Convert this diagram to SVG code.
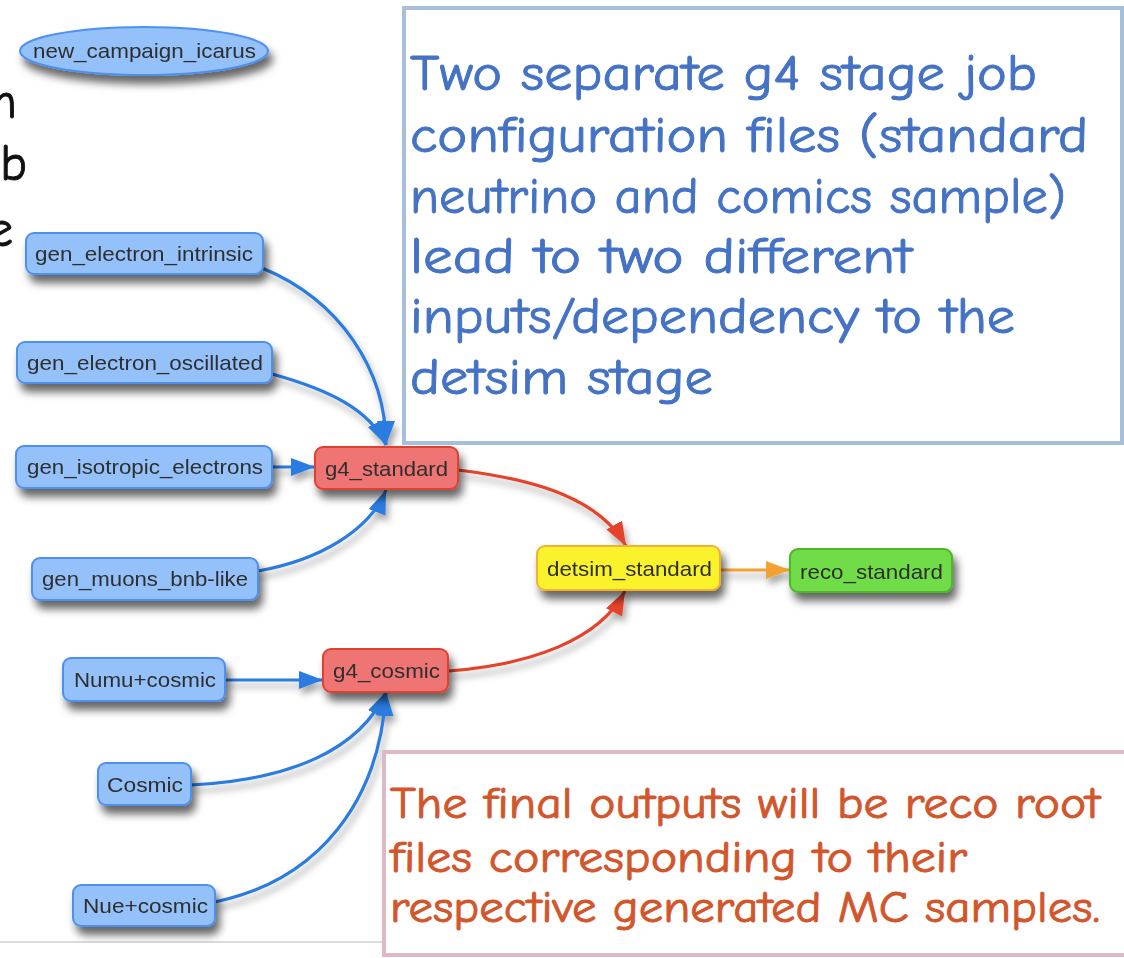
<svg xmlns="http://www.w3.org/2000/svg" width="1124" height="958" viewBox="0 0 1124 958">
  <defs>
    <filter id="shadow" x="-20%" y="-40%" width="150%" height="230%">
      <feDropShadow dx="4" dy="8" stdDeviation="4.5" flood-color="#000" flood-opacity="0.6"/>
    </filter>
    <filter id="edgeShadow" x="-20%" y="-20%" width="150%" height="150%">
      <feDropShadow dx="3" dy="6" stdDeviation="3.5" flood-color="#000" flood-opacity="0.35"/>
    </filter>
    <marker id="arrowBlue" markerUnits="userSpaceOnUse" markerWidth="26" markerHeight="20" refX="24" refY="9" orient="auto">
      <path d="M0,0 L24,9 L0,18 z" fill="#2a7be0"/>
    </marker>
    <marker id="arrowRed" markerUnits="userSpaceOnUse" markerWidth="26" markerHeight="20" refX="24" refY="9" orient="auto">
      <path d="M0,0 L24,9 L0,18 z" fill="#e5432c"/>
    </marker>
    <marker id="arrowOrange" markerUnits="userSpaceOnUse" markerWidth="26" markerHeight="20" refX="24" refY="9" orient="auto">
      <path d="M0,0 L24,9 L0,18 z" fill="#f2a232"/>
    </marker>
  </defs>
  <style>
    .node rect, .node ellipse { stroke-width: 2; }
    .blue rect, .blue ellipse { fill: #94c1f9; stroke: #4d90ef; }
    .red rect { fill: #ef7474; stroke: #e2402e; }
    .yellow rect { fill: #faf22c; stroke: #f1b232; }
    .green rect { fill: #70dc46; stroke: #4db62b; }
    .node text { font-family: "Liberation Sans", Arial, sans-serif; font-size: 21px; fill: #2e2e2e; }
    .edge { fill: none; stroke-width: 3.2; }
    .eb { stroke: #2a7be0; marker-end: url(#arrowBlue); }
    .er { stroke: #e5432c; marker-end: url(#arrowRed); }
    .eo { stroke: #f2a232; marker-end: url(#arrowOrange); }
    .note { font-family: "Comic Neue", "Open Sans", "DejaVu Sans", sans-serif; }
    .note text { stroke-width: 0.9; }
  </style>

  <rect x="0" y="0" width="1124" height="958" fill="#fff"/>

  <!-- slide text clipped at the left edge -->
  <g id="slide-fragments" class="note" font-size="50" fill="#111" stroke="#111" text-anchor="end">
    <text x="17" y="118">n</text>
    <text x="27" y="180">b</text>
    <text x="13" y="246">e</text>
  </g>

  <line x1="0" y1="942" x2="390" y2="942" stroke="#dcdcdc" stroke-width="2"/>

  <!-- connectors -->
  <g id="connectors" filter="url(#edgeShadow)">
    <path class="edge eb" d="M262,268 C340,300 386,370 386,445"/>
    <path class="edge eb" d="M272,374 C330,390 370,410 386,445"/>
    <path class="edge eb" d="M272,467 L315,467"/>
    <path class="edge eb" d="M258,571 C320,560 370,530 386,490"/>
    <path class="edge er" d="M458,470 C540,480 600,500 626,546"/>
    <path class="edge er" d="M448,671 C530,665 600,640 625,591"/>
    <path class="edge eo" d="M720,570 L790,570"/>
    <path class="edge eb" d="M225,680 L323,680"/>
    <path class="edge eb" d="M191,785 C290,780 360,750 386,692"/>
    <path class="edge eb" d="M215,902 C320,880 380,800 386,692"/>
  </g>

  <!-- nodes -->
  <g id="new_campaign_icarus" class="node blue" filter="url(#shadow)">
    <ellipse cx="144" cy="51" rx="124" ry="24"/>
    <text x="33" y="58" textLength="223" lengthAdjust="spacingAndGlyphs">new_campaign_icarus</text>
  </g>
  <g id="gen_electron_intrinsic" class="node blue" filter="url(#shadow)">
    <rect x="26" y="233" width="237" height="41" rx="8"/>
    <text x="35" y="261" textLength="218" lengthAdjust="spacingAndGlyphs">gen_electron_intrinsic</text>
  </g>
  <g id="gen_electron_oscillated" class="node blue" filter="url(#shadow)">
    <rect x="17" y="342" width="255" height="41" rx="8"/>
    <text x="27" y="370" textLength="236" lengthAdjust="spacingAndGlyphs">gen_electron_oscillated</text>
  </g>
  <g id="gen_isotropic_electrons" class="node blue" filter="url(#shadow)">
    <rect x="16" y="446" width="256" height="42" rx="8"/>
    <text x="27" y="474" textLength="236" lengthAdjust="spacingAndGlyphs">gen_isotropic_electrons</text>
  </g>
  <g id="gen_muons_bnb-like" class="node blue" filter="url(#shadow)">
    <rect x="32" y="558" width="226" height="42" rx="8"/>
    <text x="42" y="586" textLength="206" lengthAdjust="spacingAndGlyphs">gen_muons_bnb-like</text>
  </g>
  <g id="Numu_cosmic" class="node blue" filter="url(#shadow)">
    <rect x="63" y="658" width="162" height="43" rx="8"/>
    <text x="74" y="687" textLength="142" lengthAdjust="spacingAndGlyphs">Numu+cosmic</text>
  </g>
  <g id="Cosmic" class="node blue" filter="url(#shadow)">
    <rect x="98" y="763" width="93" height="42" rx="8"/>
    <text x="107" y="792" textLength="76" lengthAdjust="spacingAndGlyphs">Cosmic</text>
  </g>
  <g id="Nue_cosmic" class="node blue" filter="url(#shadow)">
    <rect x="73" y="885" width="142" height="41" rx="8"/>
    <text x="83" y="913" textLength="125" lengthAdjust="spacingAndGlyphs">Nue+cosmic</text>
  </g>
  <g id="g4_standard" class="node red" filter="url(#shadow)">
    <rect x="315" y="447" width="143" height="42" rx="8"/>
    <text x="325" y="476" textLength="123" lengthAdjust="spacingAndGlyphs">g4_standard</text>
  </g>
  <g id="g4_cosmic" class="node red" filter="url(#shadow)">
    <rect x="323" y="649" width="125" height="43" rx="8"/>
    <text x="333" y="678" textLength="107" lengthAdjust="spacingAndGlyphs">g4_cosmic</text>
  </g>
  <g id="detsim_standard" class="node yellow" filter="url(#shadow)">
    <rect x="537" y="546" width="183" height="44" rx="8"/>
    <text x="547" y="576" textLength="165" lengthAdjust="spacingAndGlyphs">detsim_standard</text>
  </g>
  <g id="reco_standard" class="node green" filter="url(#shadow)">
    <rect x="790" y="549" width="162" height="43" rx="8"/>
    <text x="800" y="579" textLength="143" lengthAdjust="spacingAndGlyphs">reco_standard</text>
  </g>

  <!-- annotation boxes -->
  <g id="note-g4-configs" class="note">
    <rect x="404" y="8" width="718" height="435" fill="#fff" stroke="#a7bfd9" stroke-width="4"/>
    <g font-size="50" fill="#4472c4" stroke="#4472c4">
      <text x="410" y="90" textLength="627" lengthAdjust="spacingAndGlyphs">Two separate g4 stage job</text>
      <text x="410" y="152" textLength="678" lengthAdjust="spacingAndGlyphs">configuration files (standard</text>
      <text x="410" y="213" textLength="656" lengthAdjust="spacingAndGlyphs">neutrino and comics sample)</text>
      <text x="410" y="273" textLength="502" lengthAdjust="spacingAndGlyphs">lead to two different</text>
      <text x="410" y="333" textLength="605" lengthAdjust="spacingAndGlyphs">inputs/dependency to the</text>
      <text x="410" y="394" textLength="303" lengthAdjust="spacingAndGlyphs">detsim stage</text>
    </g>
  </g>
  <g id="note-reco-outputs" class="note">
    <rect x="384" y="752" width="744" height="203" fill="#fff" stroke="#dcb9c5" stroke-width="4"/>
    <g font-size="44" fill="#d2562c" stroke="#d2562c">
      <text x="390" y="818" textLength="710" lengthAdjust="spacingAndGlyphs">The final outputs will be reco root</text>
      <text x="390" y="872" textLength="577" lengthAdjust="spacingAndGlyphs">files corresponding to their</text>
      <text x="390" y="922" textLength="710" lengthAdjust="spacingAndGlyphs">respective generated MC samples.</text>
    </g>
  </g>
</svg>
